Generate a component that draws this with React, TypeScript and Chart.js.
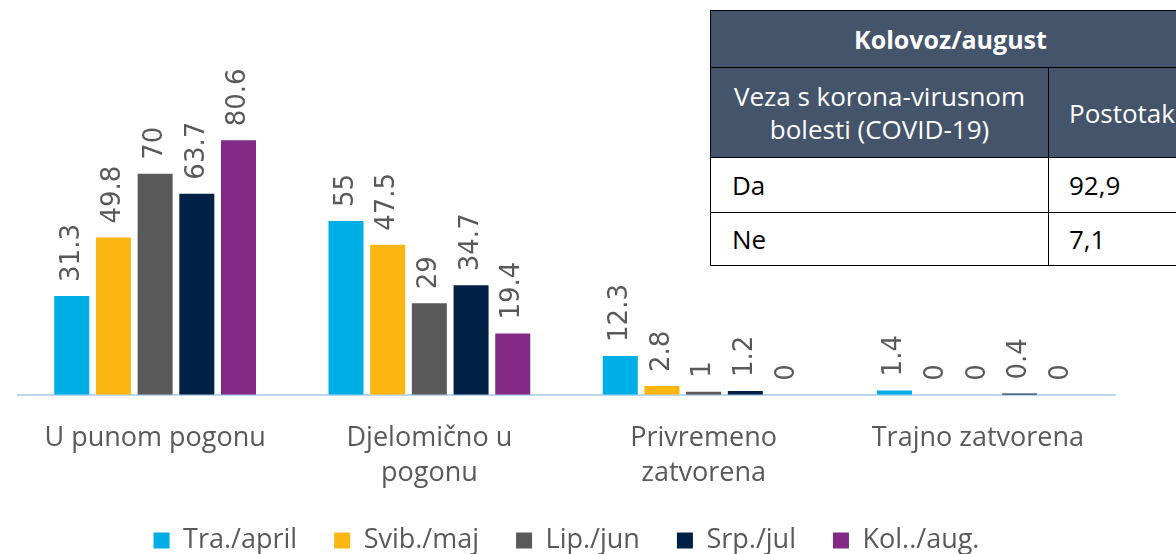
import React, { useEffect, useRef } from "react";
import { Chart, registerables } from "chart.js";

Chart.register(...registerables);

const categories: string[][] = [
  ["U punom pogonu"],
  ["Djelomično u", "pogonu"],
  ["Privremeno", "zatvorena"],
  ["Trajno zatvorena"],
];
const seriesNames = ["Tra./april", "Svib./maj", "Lip./jun", "Srp./jul", "Kol../aug."];
const seriesColors = ["#00AEE6", "#FBB612", "#595959", "#002145", "#822A85"];
const april = [31.3, 55, 12.3, 1.4];
const maj = [49.8, 47.5, 2.8, 0];
const jun = [70, 29, 1, 0];
const jul = [63.7, 34.7, 1.2, 0.4];
const aug = [80.6, 19.4, 0, 0];
const seriesValues = [april, maj, jun, jul, aug];

const tableHeader = "Kolovoz/august";
const tableColHeads = ["Veza s korona-virusnom bolesti (COVID-19)", "Postotak"];
const tableRows: string[][] = [
  ["Da", "92,9"],
  ["Ne", "7,1"],
];

const valueLabels = {
  id: "valueLabels",
  afterDatasetsDraw(chart: any) {
    const ctx = chart.ctx;
    ctx.save();
    ctx.fillStyle = "#595959";
    ctx.font = '26px "DejaVu Sans"';
    ctx.textAlign = "left";
    ctx.textBaseline = "middle";
    chart.data.datasets.forEach((ds: any, i: number) => {
      const meta = chart.getDatasetMeta(i);
      meta.data.forEach((el: any, j: number) => {
        const v = ds.data[j];
        ctx.save();
        ctx.translate(el.x, el.y - 14);
        ctx.rotate(-Math.PI / 2);
        ctx.fillText(String(v), 0, 0);
        ctx.restore();
      });
    });
    ctx.restore();
  },
};

export default function App() {
  const ref = useRef<HTMLCanvasElement | null>(null);
  useEffect(() => {
    if (!ref.current) return;
    const chart = new Chart(ref.current, {
      type: "bar",
      data: {
        labels: categories,
        datasets: seriesNames.map((name, i) => ({
          label: name,
          data: seriesValues[i],
          backgroundColor: seriesColors[i],
          borderWidth: 0,
          categoryPercentage: 0.76,
          barPercentage: 0.84,
        })),
      },
      options: {
        animation: false,
        responsive: false,
        maintainAspectRatio: false,
        layout: { padding: { top: 79, left: 18, right: 61, bottom: -10 } },
        plugins: {
          tooltip: { enabled: false },
          legend: {
            position: "bottom",
            labels: {
              boxWidth: 16,
              boxHeight: 16,
              padding: 37,
              color: "#595959",
              font: { family: '"Open Sans"', size: 27 },
            },
          },
        },
        scales: {
          x: {
            grid: { display: false, drawTicks: false },
            border: { display: true, color: "#BDD7EE", width: 2 },
            ticks: {
              color: "#595959",
              padding: 26,
              font: { family: '"Open Sans"', size: 27, lineHeight: 1.3 },
              maxRotation: 0,
              autoSkip: false,
            },
            afterFit: (scale: any) => {
              scale.height -= 27;
            },
          },
          y: {
            display: false,
            min: 0,
            max: 100,
          },
        },
      },
      plugins: [valueLabels],
    });
    return () => chart.destroy();
  }, []);

  const cell: React.CSSProperties = {
    border: "1px solid #000",
    padding: "0 0 0 21px",
    fontFamily: '"Open Sans"',
    fontSize: 26,
    color: "#000",
  };
  const head: React.CSSProperties = { ...cell, background: "#44546A", color: "#fff" };

  return (
    <div style={{ position: "absolute", left: 0, top: 0, width: 1176, height: 554, overflow: "hidden", background: "#fff" }}>
      <canvas ref={ref} width={1176} height={554} style={{ position: "absolute", left: 0, top: 0 }} />
      <table
        style={{
          position: "absolute",
          left: 710,
          top: 10,
          width: 480,
          borderCollapse: "collapse",
          tableLayout: "fixed",
          background: "#fff",
        }}
      >
        <colgroup>
          <col style={{ width: 338 }} />
          <col style={{ width: 142 }} />
        </colgroup>
        <tbody>
          <tr style={{ height: 57 }}>
            <td colSpan={2} style={{ ...head, fontWeight: "bold", fontSize: 25, textAlign: "center", padding: 0 }}>
              {tableHeader}
            </td>
          </tr>
          <tr style={{ height: 90 }}>
            <td style={{ ...head, textAlign: "center", padding: "0 10px", lineHeight: "33px" }}>
              {tableColHeads[0]}
            </td>
            <td style={{ ...head, padding: "0 0 0 20px" }}>{tableColHeads[1]}</td>
          </tr>
          {tableRows.map((r, i) => (
            <tr key={i} style={{ height: i === 0 ? 55 : 53 }}>
              <td style={cell}>{r[0]}</td>
              <td style={{ ...cell, padding: "0 0 0 20px" }}>{r[1]}</td>
            </tr>
          ))}
        </tbody>
      </table>
    </div>
  );
}
